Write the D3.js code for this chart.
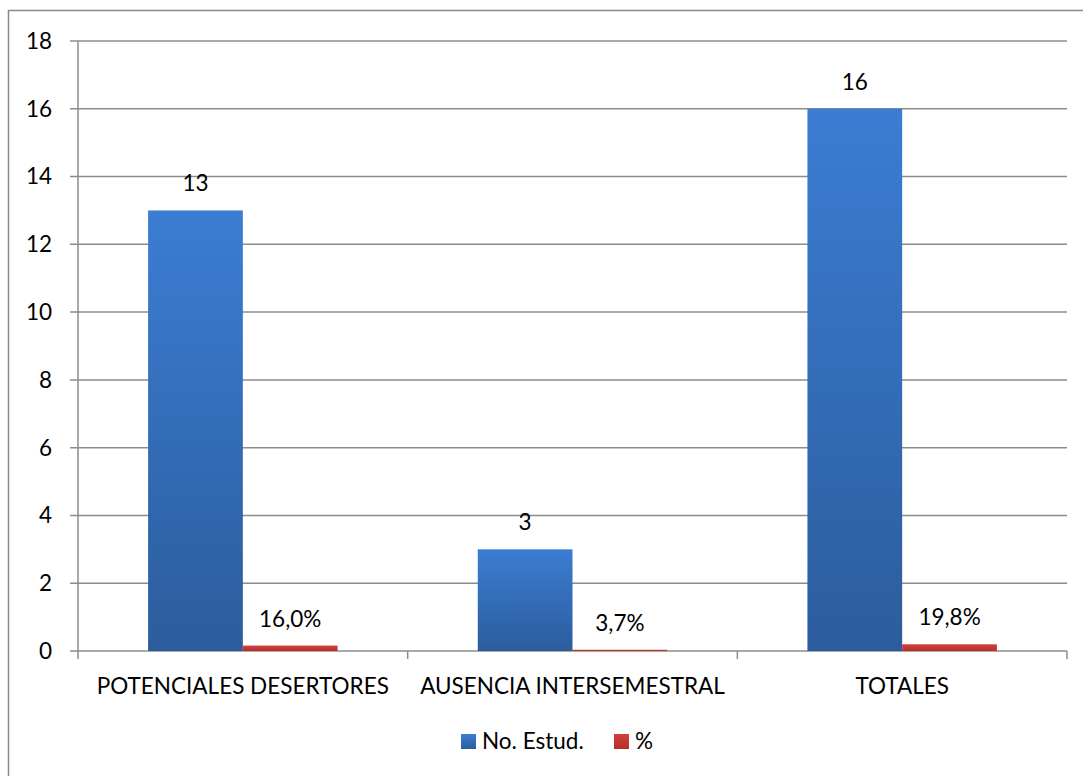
<!DOCTYPE html>
<html><head><meta charset="utf-8">
<script src="https://cdn.jsdelivr.net/npm/d3@7"></script>
<style>body{margin:0;background:#fff}svg{display:block}text{font-family:Lato,"Open Sans",sans-serif;fill:#000}</style>
</head><body><svg id="c" width="1083" height="776"></svg>
<script>
const categories = ["POTENCIALES DESERTORES","AUSENCIA INTERSEMESTRAL","TOTALES"];
const series = ["No. Estud.","%"];
const estudiantes = [13,3,16];
const porcentajes = [0.160,0.037,0.198];
const porcentajeLabels = ["16,0%","3,7%","19,8%"];
const yTicks = [0,2,4,6,8,10,12,14,16,18];

(function(){
const FS = 22.5;
const svg = d3.select("#c");
const defs = svg.append("defs");
const gb = defs.append("linearGradient").attr("id","gb").attr("x1",0).attr("y1",0).attr("x2",0).attr("y2",1);
gb.append("stop").attr("offset","0%").attr("stop-color","#3b7dd3");
gb.append("stop").attr("offset","100%").attr("stop-color","#2c5c9c");
const gr = defs.append("linearGradient").attr("id","gr").attr("x1",0).attr("y1",0).attr("x2",0).attr("y2",1);
gr.append("stop").attr("offset","0%").attr("stop-color","#d23f3b");
gr.append("stop").attr("offset","100%").attr("stop-color","#b3302c");

svg.append("rect").attr("x",8.5).attr("y",10.5).attr("width",1090).attr("height",800)
  .attr("fill","none").attr("stroke","#888").attr("stroke-width",1.5);

const pl=78, pr=1067, pt=41, pb=651;
const x = d3.scaleBand().domain(categories).range([pl,pr]).paddingInner(0).paddingOuter(0);
const y = d3.scaleLinear().domain([0,18]).range([pb,pt]);
const inner = d3.scaleBand().domain(series).range([0,x.bandwidth()]).paddingInner(0).paddingOuter(0.74);

svg.append("g").selectAll("line").data(yTicks).join("line")
  .attr("x1",pl-8).attr("x2",pr).attr("y1",d=>y(d)).attr("y2",d=>y(d))
  .attr("stroke","#8c8c8c").attr("stroke-width",1.5);

svg.append("line").attr("x1",pl).attr("x2",pl).attr("y1",pt).attr("y2",pb+8)
  .attr("stroke","#8c8c8c").attr("stroke-width",1.5);
svg.append("g").selectAll("text").data(yTicks).join("text")
  .attr("x",52).attr("y",d=>y(d)).attr("dy","0.35em").attr("text-anchor","end")
  .attr("font-size",FS).text(d=>d);

svg.append("g").selectAll("line").data(categories).join("line")
  .attr("x1",d=>x(d)+x.bandwidth()).attr("x2",d=>x(d)+x.bandwidth())
  .attr("y1",pb).attr("y2",pb+8).attr("stroke","#8c8c8c").attr("stroke-width",1.5);

const g = svg.append("g");
g.selectAll(".b").data(categories).join("rect")
  .attr("x",d=>x(d)+inner(series[0])).attr("width",inner.bandwidth())
  .attr("y",(d,i)=>y(estudiantes[i])).attr("height",(d,i)=>y(0)-y(estudiantes[i]))
  .attr("fill","url(#gb)");
g.selectAll(".r").data(categories).join("rect")
  .attr("x",d=>x(d)+inner(series[1])).attr("width",inner.bandwidth())
  .attr("y",(d,i)=>y(porcentajes[i])).attr("height",(d,i)=>Math.max(1,y(0)-y(porcentajes[i])))
  .attr("fill","url(#gr)");

g.selectAll(".lb").data(categories).join("text")
  .attr("x",d=>x(d)+inner(series[0])+inner.bandwidth()/2)
  .attr("y",(d,i)=>y(estudiantes[i])-19).attr("text-anchor","middle").attr("font-size",FS)
  .text((d,i)=>estudiantes[i]);
g.selectAll(".lr").data(categories).join("text")
  .attr("x",d=>x(d)+inner(series[1])+inner.bandwidth()/2)
  .attr("y",(d,i)=>y(porcentajes[i])-19).attr("text-anchor","middle").attr("font-size",FS)
  .text((d,i)=>porcentajeLabels[i]);

svg.append("g").selectAll("text").data(categories).join("text")
  .attr("x",d=>x(d)+x.bandwidth()/2).attr("y",694).attr("text-anchor","middle")
  .attr("font-size",FS).text(d=>d);

const leg = svg.append("g");
const legItems = [{s:series[0],fill:"url(#gb)",x:461},{s:series[1],fill:"url(#gr)",x:614}];
leg.selectAll("rect").data(legItems).join("rect")
  .attr("x",d=>d.x).attr("y",734).attr("width",15).attr("height",15).attr("fill",d=>d.fill);
leg.selectAll("text").data(legItems).join("text")
  .attr("x",d=>d.x+21).attr("y",741).attr("dy","0.35em").attr("font-size",FS).text(d=>d.s);
})();
</script></body></html>
